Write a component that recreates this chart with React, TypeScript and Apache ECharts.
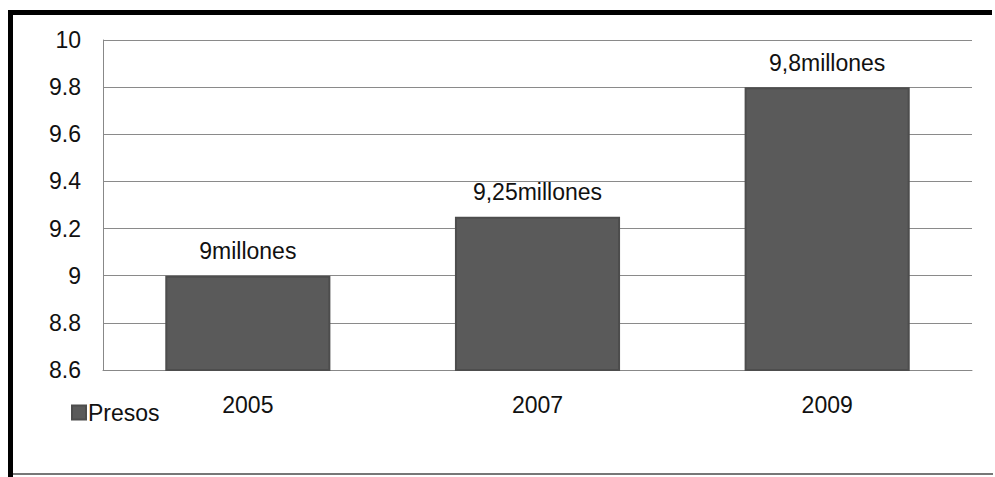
import React, { useEffect, useRef } from "react";
import * as echarts from "echarts";

const years = ["2005", "2007", "2009"];
const presos = [9, 9.25, 9.8];
const seriesName = "Presos";

export default function App() {
  const ref = useRef<HTMLDivElement>(null);

  useEffect(() => {
    if (!ref.current) return;
    const chart = echarts.init(ref.current, null, { renderer: "svg" });
    const font = "'Liberation Sans', Arial, sans-serif";
    chart.setOption({
      animation: false,
      backgroundColor: "#ffffff",
      textStyle: { fontFamily: font },
      grid: { left: 103, right: 23, top: 40, bottom: 107 },
      legend: {
        data: [seriesName],
        left: 66,
        top: 396,
        icon: "rect",
        itemWidth: 14,
        itemHeight: 14,
        itemGap: 2,
        textStyle: { fontSize: 23, color: "#111", fontFamily: font, padding: [0, 0, 0, -3] },
      },
      xAxis: {
        type: "category",
        data: years,
        axisLine: { show: true, lineStyle: { color: "#888", width: 1 } },
        axisTick: { show: false },
        axisLabel: { fontSize: 23, color: "#111", margin: 23, fontFamily: font },
      },
      yAxis: {
        type: "value",
        min: 8.6,
        max: 10,
        interval: 0.2,
        axisLine: { show: true, lineStyle: { color: "#888", width: 1 } },
        axisTick: { show: false },
        splitLine: { lineStyle: { color: "#8a8a8a", width: 1 } },
        axisLabel: {
          fontSize: 23,
          color: "#111",
          margin: 22,
          fontFamily: font,
          formatter: (v: number) => String(+v.toFixed(1)),
        },
      },
      series: [
        {
          name: seriesName,
          type: "bar",
          data: presos,
          barWidth: "57%",
          itemStyle: { color: "#5a5a5a", borderColor: "#4d4d4d", borderWidth: 2 },
          label: {
            show: true,
            position: "top",
            distance: 13,
            fontSize: 23,
            color: "#111",
            fontFamily: font,
            formatter: (p: any) => String(p.value).replace(".", ",") + "millones",
          },
        },
      ],
      graphic: [
        { type: "rect", shape: { x: 8, y: 10, width: 984, height: 5 }, style: { fill: "#000" } },
        { type: "rect", shape: { x: 8, y: 10, width: 5, height: 467 }, style: { fill: "#000" } },
        { type: "rect", shape: { x: 13, y: 473, width: 980, height: 2 }, style: { fill: "#777" } },
      ],
    });
    return () => chart.dispose();
  }, []);

  return (
    <div
      ref={ref}
      style={{ position: "absolute", left: 0, top: 0, width: 995, height: 477 }}
    />
  );
}
